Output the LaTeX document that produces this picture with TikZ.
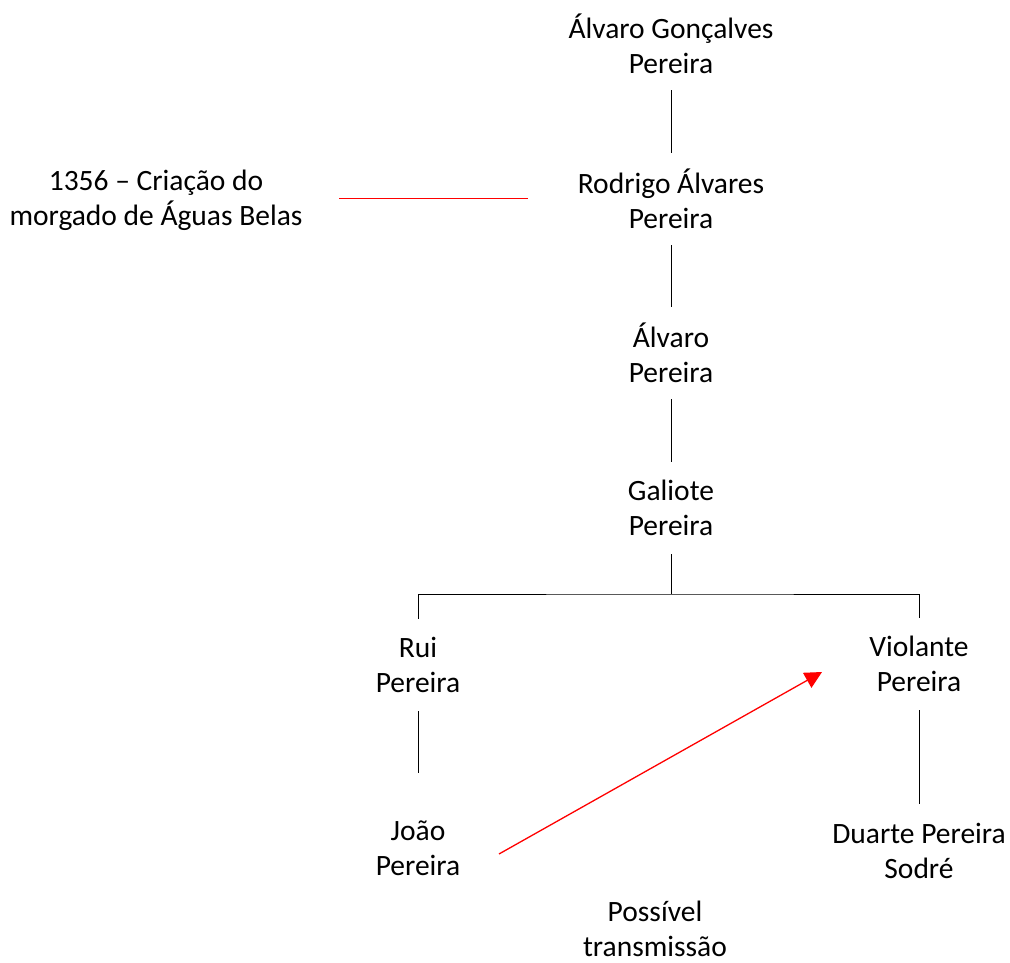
\documentclass[tikz,border=0pt]{standalone}
\usepackage{fontspec}
\setmainfont{Carlito}
\usetikzlibrary{arrows.meta}
\begin{document}
\begin{tikzpicture}[x=1pt,y=-1pt,
  lbl/.style={align=center,font=\fontsize{29.5}{35}\selectfont,inner sep=0pt,minimum height=92pt},
  link/.style={draw=black,line width=1pt},
  redlink/.style={draw=red,line width=1.3pt}]
\useasboundingbox (0,0) rectangle (1010,963);
\node[lbl] (A) at (671,44) {Álvaro Gonçalves\\Pereira};
\node[lbl] (R) at (671,199) {Rodrigo Álvares\\Pereira};
\node[lbl] (AP) at (671,353) {Álvaro\\Pereira};
\node[lbl] (G) at (671,508) {Galiote\\Pereira};
\node[lbl] (Rui) at (418,665) {Rui\\Pereira};
\node[lbl] (V) at (919,664) {Violante\\Pereira};
\node[lbl,minimum height=150pt] (J) at (418,848) {João\\Pereira};
\node[lbl,minimum height=94pt] (D) at (919,851) {Duarte Pereira\\Sodré};
\node[lbl] (note) at (156,200) {1356 – Criação do\\morgado de Águas Belas};
\node[lbl] (poss) at (655,929) {Possível\\transmissão};
\coordinate (bar) at (671,594);
\coordinate (rl1) at (339,198.5);
\coordinate (rl2) at (528,198.5);
\coordinate (ja) at (499,854);
\coordinate (va) at (822,672);
\draw[link] (A.south) -- (R.north);
\draw[link] (R.south) -- (AP.north);
\draw[link] (AP.south) -- (G.north);
\draw[link] (G.south) -- (bar);
\draw[link] (Rui.north) |- (bar) -| (V.north);
\draw[link] (Rui.south) -- (J.north);
\draw[link] (V.south) -- (D.north);
\draw[redlink] (rl1) -- (rl2);
\draw[redlink,-{Triangle[length=17pt,width=17pt]}] (ja) -- (va);
\end{tikzpicture}
\end{document}
